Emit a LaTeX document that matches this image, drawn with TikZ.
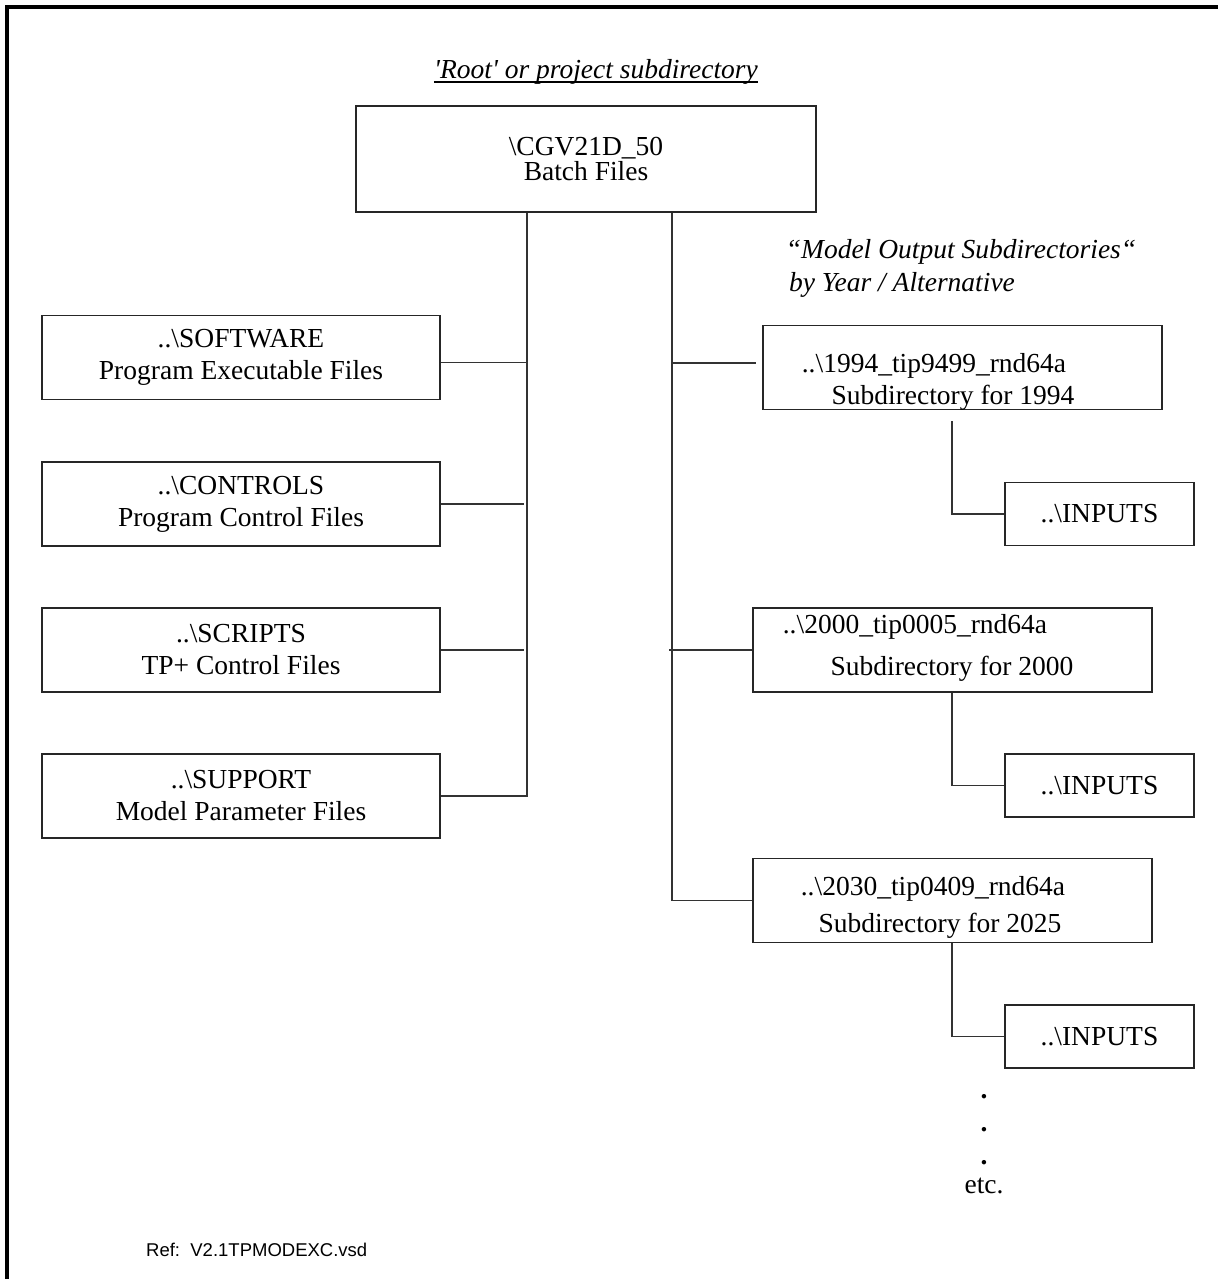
\documentclass[tikz,border=0pt]{standalone}
\usepackage{fontspec}
\setmainfont{Liberation Serif}
\setsansfont{Liberation Sans}
\usetikzlibrary{positioning}
\newcommand{\bs}{\textbackslash}
\newcommand{\dirfont}{\fontsize{27.5}{32}\selectfont}

\begin{document}
\begin{tikzpicture}[x=1pt, y=-1pt,
  dirbox/.style={draw=black!85, line width=1.5pt, minimum width=399pt,
    minimum height=84pt, inner sep=0pt, font=\dirfont, align=center},
  inbox/.style={dirbox, minimum width=189pt, minimum height=63pt},
  txt/.style={font=\dirfont, inner sep=0pt, anchor=base},
  link/.style={draw=black!80, line width=1.3pt}]
% directory tree schematic -- all coordinates in px, y downwards
\useasboundingbox (0,0) rectangle (1218,1279);
\draw[line width=4pt] (7,1279) -- (7,7) -- (1218,7);

% columns of the trunk lines
\coordinate (lx) at (527,0);
\coordinate (rx) at (672,0);
\coordinate (ix) at (952,0);

% 1. Root
\node[txt, font=\dirfont\itshape] (title) at (596,79)
  {\textquotesingle Root\textquotesingle\ or project subdirectory};
\draw[line width=1.4pt] ([yshift=-3pt]title.base west) -- ([yshift=-3pt]title.base east);
\node[dirbox, minimum width=460pt, minimum height=106pt,
  font=\fontsize{27.5}{25}\selectfont] (root) at (586,159) {\bs CGV21D\_50\\Batch Files};

% 2. Left column
\node[dirbox, minimum width=398pt] (software) at (241,357.5) {..\bs SOFTWARE\\Program Executable Files};
\node[dirbox, minimum width=398pt] (controls) at (241,504) {..\bs CONTROLS\\Program Control Files};
\node[dirbox, minimum width=398pt] (scripts) at (241,650) {..\bs SCRIPTS\\TP+ Control Files};
\node[dirbox, minimum width=398pt] (support) at (241,796) {..\bs SUPPORT\\Model Parameter Files};

% 3. Right column -- model output subdirectories
\node[txt, font=\dirfont\itshape] (outa) at (961,258)
  {\textquotedblleft Model Output Subdirectories\textquotedblleft};
\node[txt, font=\dirfont\itshape] (outb) at (902,291) {by Year / Alternative};

\node[dirbox] (y1994) at (962.5,367.5) {};
\node[txt] (y1994a) at (934,372) {..\bs 1994\_tip9499\_rnd64a};
\node[txt] (y1994b) at (953,404) {Subdirectory for 1994};
\node[inbox] (in94) at (1099.5,514) {..\bs INPUTS};

\node[dirbox] (y2000) at (952.5,650) {};
\node[txt] (y2000a) at (915,633) {..\bs 2000\_tip0005\_rnd64a};
\node[txt] (y2000b) at (952,675) {Subdirectory for 2000};
\node[inbox] (in00) at (1099.5,785.5) {..\bs INPUTS};

\node[dirbox] (y2030) at (952.5,900.5) {};
\node[txt] (y2030a) at (933,895) {..\bs 2030\_tip0409\_rnd64a};
\node[txt] (y2030b) at (940,932) {Subdirectory for 2025};
\node[inbox] (in30) at (1099.5,1036.5) {..\bs INPUTS};

\node[font=\fontsize{27.5}{33}\selectfont\bfseries, align=center, inner sep=0pt, anchor=north]
  (dots) at (984,1094) {.\\.\\.};
\node[txt] (etc) at (984,1193) {etc.};

% 4. Links
\draw[link] (root.south -| lx) |- (support.east);
\coordinate (csw) at ([yshift=-5pt]software.east);
\draw[link] (csw) -- (csw -| lx);
\draw[link, shorten >=3pt] (controls.east) -- (controls.east -| lx);
\draw[link, shorten >=3pt] (scripts.east) -- (scripts.east -| lx);

\draw[link] (root.south -| rx) |- (y2030.west);
\coordinate (c94) at ([yshift=4.5pt]y1994.west);
\draw[link] (c94 -| rx) -- ([xshift=-6pt]c94);
\draw[link, shorten <=-3pt] (y2000.west -| rx) -- (y2000.west);

\coordinate (b94) at ([yshift=-11pt]y1994.south);
\draw[link] (b94 -| ix) |- (in94.west);
\draw[link] (y2000.south -| ix) |- (in00.west);
\draw[link] (y2030.south -| ix) |- (in30.west);

% 5. Reference
\node[font=\sffamily\fontsize{18.5}{22}\selectfont, anchor=base west, inner sep=0pt]
  (ref) at (146,1256) {Ref:\ \ V2.1TPMODEXC.vsd};
\end{tikzpicture}
\end{document}
